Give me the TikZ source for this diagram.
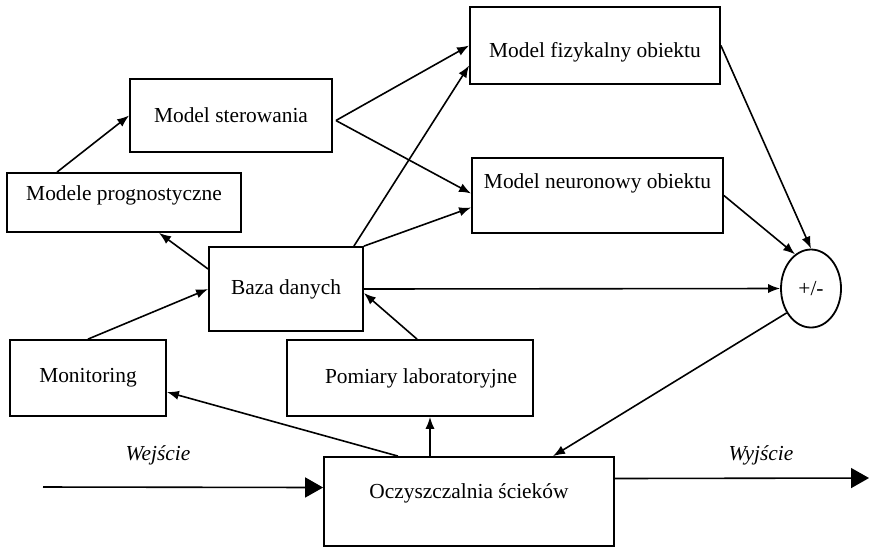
\documentclass[tikz,border=0pt]{standalone}
\usepackage{fontspec}
\setmainfont{Liberation Serif}
\usepackage{tikz}
\usetikzlibrary{calc}
\usetikzlibrary{arrows.meta}
\usetikzlibrary{shapes}

\tikzset{box/.style={draw, rectangle, line width=0.9pt, inner sep=0pt, font=\fontsize{10.7}{12}\selectfont},
         lbl/.style={font=\fontsize{10.7}{12}\selectfont\itshape},
         bigtip/.style={-{Triangle[length=9pt,width=10pt]}},
         >={Latex[length=6pt,width=4.6pt]}}

\begin{document}
\begin{tikzpicture}[x=0.5pt, y=-0.5pt, line width=0.8pt]
\useasboundingbox (0,0) rectangle (870,547);

\node [box, minimum width=101pt, minimum height=36.5pt] at (231,115.5) (ster) {Model sterowania};
\node [box, minimum width=117pt, minimum height=29.5pt, text height=7.2pt, text depth=9.3pt] at (124,202.5) (prog) {Modele prognostyczne};
\node [box, minimum width=77pt, minimum height=42pt] at (286,289) (baza) {Baza danych};
\node [box, minimum width=125pt, minimum height=38.5pt, text height=14.2pt, text depth=2.3pt] at (595,45.5) (fiz) {Model fizykalny obiektu};
\node [box, minimum width=125.5pt, minimum height=37.5pt, text height=7.2pt, text depth=14.3pt] at (597.5,195.5) (neur) {Model neuronowy obiektu};
\node [box, ellipse, minimum width=30pt, minimum height=39pt] at (811,288.5) (circ) {+/-};
\node [box, minimum width=78pt, minimum height=38pt] at (88,378) (mon) {Monitoring};
\node [box, minimum width=123pt, minimum height=38pt] at (410,378) (pom) {\hspace{11pt}Pomiary laboratoryjne};
\node [box, minimum width=145pt, minimum height=44.5pt, text height=7.2pt, text depth=10.3pt] at (469,501.5) (ocz) {Oczyszczalnia ścieków};

\node [lbl] at (158,455) (wejlbl) {Wejście};
\node [lbl] at (761,455) (wyjlbl) {Wyjście};

% connections
\coordinate (sterout) at ($(ster.east)+(3,5)$);
\draw[->] ($(prog.north)+(-67,0)$) -- (ster.west);
\draw[->] ($(baza.west)+(0,-20)$) -- ($(prog.south)+(35,0)$);
\draw[->] (mon.north) -- (baza.west);
\draw[->] (sterout) -- (fiz.west);
\draw[->] (sterout) -- ($(neur.west)+(0,-2)$);
\draw[->] ($(baza.north east)+(-10,0)$) -- ($(fiz.west)+(0,20)$);
\draw[->] (baza.north east) -- ($(neur.west)+(0,12)$);
\draw[->] (baza.east) -- (circ.west);
\draw[->] ($(pom.north)+(7,0)$) -- ($(baza.east)+(0,4)$);
\draw[->] ($(ocz.north)+(-71,0)$) -- ($(mon.east)+(0,14)$);
\draw[->] ($(ocz.north)+(-39,0)$) -- ($(pom.south)+(20,0)$);
\draw[->] (circ.225) -- ($(ocz.north)+(84,0)$);
\draw[->] (fiz.east) -- (circ.north);
\draw[->] (neur.east) -- (circ.115);

\coordinate (wej) at (43,487);
\coordinate (wyj) at (869,478);
\draw[bigtip] (wej) -- ($(ocz.west)+(0,-14)$);
\draw[bigtip] ($(ocz.east)+(0,-23)$) -- (wyj);
\end{tikzpicture}
\end{document}
